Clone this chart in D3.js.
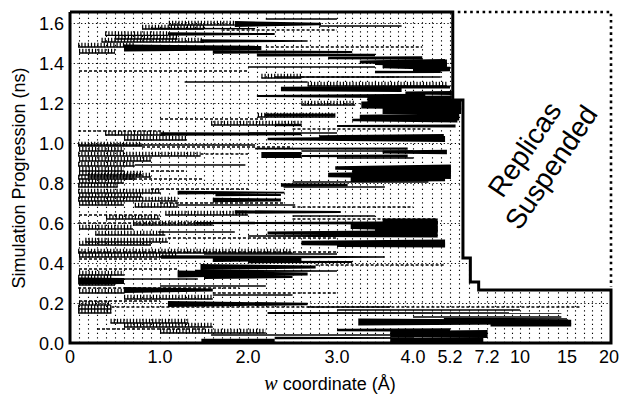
<!DOCTYPE html>
<html>
<head>
<meta charset="utf-8">
<script src="https://cdn.jsdelivr.net/npm/d3@7"></script>
<style>
  body { margin: 0; background: #fff; }
  svg { display: block; font-family: "Liberation Sans", Arial, sans-serif; }
</style>
</head>
<body>
<svg id="chart" width="623" height="396"></svg>
<script>
// axis ticks (w coordinate is drawn on a non-uniform window axis)
const xTicks = [0, 1.0, 2.0, 3.0, 4.0, 5.2, 7.2, 10, 15, 20];
const xTickLabels = ["0", "1.0", "2.0", "3.0", "4.0", "5.2", "7.2", "10", "15", "20"];
const yTicks = [0, 0.2, 0.4, 0.6, 0.8, 1.0, 1.2, 1.4, 1.6];
const tMax = 1.655;

// window spacing per axis section: [from, to, step]
const windowSteps = [[0, 4.0, 0.1], [4.0, 5.2, 0.3], [5.2, 7.2, 0.5], [7.2, 10, 0.7], [10, 20, 1.0]];

// boundary of the active region: time when replicas beyond w were suspended
const suspendT = [1.655, 1.215, 0.425, 0.305, 0.265];
const suspendW = [5.35, 5.9, 6.3, 6.75, 20];

// solid trajectory bars: [t (ns), w start, w end, time span at start, time span at end]
const solidBars = [
  [1.62, 2.2, 3.0, 0.006, 0.004], [1.595, 1.85, 2.82, 0.03, 0.012],
  [1.585, 2.8, 3.85, 0.007, 0.005], [1.572, 0.9, 2.08, 0.008, 0.006],
  [1.545, 1.09, 2.3, 0.018, 0.009], [1.51, 1.46, 2.67, 0.018, 0.008],
  [1.475, 0.6, 2.15, 0.035, 0.022], [1.455, 1.6, 3.2, 0.018, 0.01],
  [1.44, 2.1, 3.5, 0.015, 0.012], [1.425, 2.9, 4.3, 0.012, 0.018],
  [1.405, 3.3, 5.04, 0.015, 0.03], [1.4, 3.5, 5.1, 0.02, 0.035],
  [1.385, 3.6, 5.1, 0.022, 0.04], [1.37, 4.0, 5.2, 0.03, 0.022],
  [1.38, 2.0, 3.5, 0.006, 0.006], [1.355, 3.5, 4.9, 0.012, 0.009],
  [1.33, 2.3, 4.9, 0.006, 0.006], [1.305, 1.28, 2.67, 0.008, 0.008],
  [1.27, 2.37, 3.85, 0.022, 0.03], [1.28, 3.8, 5.2, 0.015, 0.015],
  [1.25, 3.9, 5.3, 0.015, 0.02], [1.235, 2.1, 4.4, 0.009, 0.022],
  [1.22, 3.4, 5.3, 0.03, 0.035], [1.205, 3.6, 5.8, 0.03, 0.03],
  [1.19, 3.32, 5.8, 0.035, 0.045], [1.175, 3.8, 5.8, 0.025, 0.025],
  [1.16, 3.6, 5.8, 0.03, 0.03], [1.14, 2.19, 2.98, 0.015, 0.015],
  [1.13, 3.3, 5.7, 0.022, 0.035], [1.115, 3.2, 5.6, 0.012, 0.025],
  [1.09, 2.3, 2.6, 0.012, 0.012], [1.085, 3.0, 5.5, 0.009, 0.015],
  [1.05, 2.0, 3.0, 0.006, 0.004], [1.045, 1.01, 2.6, 0.018, 0.012],
  [1.03, 2.8, 5.0, 0.018, 0.03], [1.02, 2.22, 5.04, 0.012, 0.03],
  [0.99, 0.09, 2.08, 0.006, 0.006], [0.972, 2.08, 3.93, 0.008, 0.012],
  [0.96, 2.6, 4.0, 0.005, 0.005], [0.955, 3.6, 5.1, 0.015, 0.022],
  [0.94, 2.15, 2.6, 0.03, 0.03], [0.935, 2.6, 3.93, 0.009, 0.015],
  [0.925, 3.0, 4.0, 0.006, 0.006], [0.89, 0.72, 1.97, 0.005, 0.005],
  [0.875, 2.98, 5.25, 0.018, 0.035], [0.86, 3.2, 5.25, 0.025, 0.035],
  [0.84, 2.9, 5.25, 0.022, 0.04], [0.82, 3.18, 5.04, 0.03, 0.022],
  [0.805, 2.5, 4.5, 0.006, 0.006], [0.79, 2.37, 3.14, 0.018, 0.012],
  [0.78, 2.4, 3.63, 0.006, 0.006], [0.752, 1.2, 2.41, 0.018, 0.009],
  [0.74, 1.63, 2.37, 0.012, 0.009], [0.715, 1.6, 2.37, 0.022, 0.015],
  [0.69, 1.2, 2.53, 0.006, 0.006], [0.655, 1.85, 3.05, 0.018, 0.009],
  [0.635, 2.5, 3.5, 0.005, 0.005], [0.61, 3.6, 4.8, 0.025, 0.025],
  [0.6, 1.4, 4.8, 0.009, 0.018], [0.585, 3.18, 4.8, 0.03, 0.05],
  [0.57, 3.5, 4.8, 0.025, 0.035], [0.555, 0.98, 1.85, 0.006, 0.006],
  [0.55, 2.22, 4.8, 0.015, 0.03], [0.535, 2.0, 4.8, 0.008, 0.015],
  [0.5, 2.6, 5.04, 0.022, 0.035], [0.49, 3.0, 5.04, 0.02, 0.025],
  [0.445, 1.5, 3.0, 0.008, 0.006], [0.43, 1.01, 3.63, 0.018, 0.008],
  [0.42, 1.6, 2.6, 0.03, 0.022], [0.405, 2.0, 3.2, 0.012, 0.01],
  [0.38, 1.46, 2.76, 0.03, 0.015], [0.36, 1.4, 3.0, 0.012, 0.008],
  [0.345, 1.2, 2.67, 0.035, 0.015], [0.33, 1.5, 2.5, 0.02, 0.01],
  [0.31, 0.09, 0.6, 0.035, 0.03], [0.32, 0.46, 1.43, 0.008, 0.006],
  [0.285, 1.0, 2.2, 0.008, 0.005], [0.265, 0.6, 1.6, 0.03, 0.015],
  [0.24, 1.6, 2.5, 0.008, 0.005], [0.195, 1.09, 2.67, 0.03, 0.012],
  [0.18, 2.67, 3.7, 0.008, 0.008], [0.165, 3.0, 10, 0.008, 0.008],
  [0.15, 2.22, 14.4, 0.009, 0.006], [0.13, 4.0, 14.4, 0.006, 0.006],
  [0.12, 5.0, 15.0, 0.01, 0.008], [0.105, 3.28, 15.5, 0.035, 0.022],
  [0.09, 7.5, 15.5, 0.015, 0.015], [0.065, 3.0, 5.2, 0.012, 0.018],
  [0.045, 3.7, 7.25, 0.03, 0.04], [0.04, 1.58, 3.84, 0.008, 0.008],
  [0.025, 2.3, 4.0, 0.012, 0.008], [0.012, 1.47, 2.3, 0.018, 0.018],
  [0.015, 3.7, 7.0, 0.022, 0.028]
];

// ladder-like (rapidly exchanging) segments: [t, w start, w end]
const combBars = [
  [1.6, 1.1, 1.85], [1.58, 0.8, 1.5], [1.548, 0.39, 1.09], [1.53, 0.5, 1.2],
  [1.515, 0.35, 1.5], [1.49, 0.09, 0.72], [1.46, 0.1, 0.5], [1.335, 2.15, 2.6],
  [1.295, 2.67, 5.1], [1.2, 2.6, 3.24], [1.14, 2.11, 2.98], [1.1, 1.58, 2.6],
  [1.05, 0.39, 1.06], [1.025, 0.6, 1.3], [0.995, 0.09, 0.8], [0.97, 0.1, 0.6],
  [0.945, 0.09, 1.46], [0.92, 0.1, 0.9], [0.895, 0.09, 0.72], [0.87, 0.1, 0.6],
  [0.85, 0.1, 0.8], [0.84, 0.2, 0.9], [0.83, 0.09, 0.72], [0.81, 0.1, 0.6],
  [0.79, 0.09, 0.53], [0.76, 0.09, 1.01], [0.74, 0.1, 0.8], [0.72, 0.09, 1.2],
  [0.7, 0.1, 0.6], [0.69, 0.72, 1.2], [0.65, 1.06, 2.0], [0.63, 0.4, 1.0],
  [0.6, 0.7, 1.6], [0.58, 0.1, 0.7], [0.55, 0.28, 1.06], [0.515, 0.17, 1.09],
  [0.5, 0.1, 0.9], [0.46, 0.09, 2.5], [0.44, 0.1, 1.2], [0.35, 0.1, 0.6],
  [0.33, 0.09, 0.46], [0.3, 0.1, 0.5], [0.26, 0.1, 0.6], [0.23, 0.6, 1.6],
  [0.2, 0.1, 0.45], [0.18, 0.09, 0.46], [0.16, 0.09, 0.46], [0.11, 0.45, 1.32],
  [0.09, 0.6, 1.6], [0.06, 1.0, 2.2]
];

// thin dashed segments: [t, w start, w end]
const dashBars = [
  [1.565, 1.7, 3.0], [1.48, 2.2, 4.3], [1.36, 0.1, 2.0], [1.33, 2.6, 3.8],
  [1.12, 1.0, 2.2], [1.07, 2.5, 4.6], [1.06, 0.09, 1.0], [0.98, 0.8, 2.5],
  [0.945, 1.46, 2.0], [0.86, 0.9, 1.3], [0.82, 0.6, 1.5], [0.77, 0.9, 2.0],
  [0.7, 1.0, 2.4], [0.68, 2.5, 4.0], [0.64, 0.1, 1.0], [0.62, 2.5, 4.8],
  [0.6, 0.09, 1.4], [0.525, 1.09, 3.0], [0.455, 0.09, 3.0], [0.42, 0.1, 1.0],
  [0.39, 2.76, 5.04], [0.37, 0.1, 1.2], [0.275, 0.09, 1.9], [0.25, 1.6, 3.0],
  [0.21, 0.1, 1.0], [0.18, 0.46, 16.7], [0.07, 0.3, 1.5]
];

const svg = d3.select("#chart");
const plot = { left: 70, right: 609, top: 12, bottom: 343 };

const x = d3.scaleLinear()
  .domain(xTicks)
  .range([plot.left, 160, 248, 337, 413, 450, 487, 520, 567, plot.right]);
const y = d3.scaleLinear().domain([0, tMax]).range([plot.bottom, plot.top]);

// highest time reached at a given w before suspension
function activeTop(w) {
  let t = 0;
  suspendW.forEach((sw, i) => { if (w < sw) t = Math.max(t, suspendT[i]); });
  return t;
}
function activeRight(t) {
  let w = suspendW[0];
  suspendT.forEach((st, i) => { if (t <= st) w = suspendW[i]; });
  return w;
}

// dotted window grid
const windows = [];
windowSteps.forEach(([a, b, s]) => {
  d3.range(a + s, b - 1e-6, s).forEach(w => windows.push(w));
  windows.push(b);
});
const grid = svg.append("g").attr("stroke", "#000").attr("stroke-width", 1.1)
  .attr("stroke-dasharray", "1.2,3.3");
grid.selectAll("line.v").data(windows.filter(w => w < 20)).enter().append("line")
  .attr("class", "v")
  .attr("x1", d => Math.round(x(d)) + 0.5).attr("x2", d => Math.round(x(d)) + 0.5)
  .attr("y1", y(0)).attr("y2", d => y(activeTop(d)));
grid.selectAll("line.h").data(yTicks.slice(1)).enter().append("line")
  .attr("class", "h")
  .attr("x1", x(0)).attr("x2", d => x(activeRight(d)))
  .attr("y1", d => Math.round(y(d)) + 0.5).attr("y2", d => Math.round(y(d)) + 0.5)
  .attr("stroke-dasharray", "1.2,2.5");

// thin dashed trajectories
svg.append("g").selectAll("line").data(dashBars).enter().append("line")
  .attr("x1", d => x(d[1])).attr("x2", d => x(d[2]))
  .attr("y1", d => y(d[0])).attr("y2", d => y(d[0]))
  .attr("stroke", "#000").attr("stroke-width", 1.4)
  .attr("stroke-dasharray", "3,2");

// ladder segments
const comb = svg.append("g").attr("stroke", "#000");
comb.selectAll("line.c").data(combBars).enter().append("line")
  .attr("class", "c")
  .attr("x1", d => x(d[1])).attr("x2", d => x(d[2]))
  .attr("y1", d => y(d[0])).attr("y2", d => y(d[0]))
  .attr("stroke-width", 4.5).attr("stroke-dasharray", "1.2,2");
comb.selectAll("line.b").data(combBars).enter().append("line")
  .attr("class", "b")
  .attr("x1", d => x(d[1])).attr("x2", d => x(d[2]))
  .attr("y1", d => y(d[0]) + 2).attr("y2", d => y(d[0]) + 2)
  .attr("stroke-width", 1.3);

// solid wedge-shaped trajectories
svg.append("g").selectAll("polygon").data(solidBars).enter().append("polygon")
  .attr("fill", "#000")
  .attr("points", d => {
    const [t, w0, w1, a, b] = d;
    const ha = Math.max(0.7, (y(0) - y(a)) / 2), hb = Math.max(0.7, (y(0) - y(b)) / 2);
    return [[x(w0), y(t) - ha], [x(w1), y(t) - hb], [x(w1), y(t) + hb], [x(w0), y(t) + ha]]
      .map(p => p.join(",")).join(" ");
  });

// frame with the suspension step
const lastT = suspendT[suspendT.length - 1];
const step = [[x(0), y(tMax)], [x(suspendW[0]), y(tMax)]];
suspendT.forEach((t, i) => {
  if (i > 0) {
    step.push([x(suspendW[i - 1]), y(t)]);
    step.push([x(suspendW[i]), y(t)]);
  }
});
step[step.length - 1][0] = x(20) + 2;
step.push([x(20) + 2, y(0)], [x(0), y(0)], [x(0), y(tMax)]);
svg.append("path")
  .attr("d", d3.line()(step))
  .attr("fill", "none").attr("stroke", "#000").attr("stroke-width", 3)
  .attr("stroke-linejoin", "miter");
// dotted outline of the suspended region
svg.append("path")
  .attr("d", d3.line()([[x(suspendW[0]) + 5, y(tMax)], [x(20) + 2, y(tMax)], [x(20) + 2, y(lastT) - 3]]))
  .attr("fill", "none").attr("stroke", "#000").attr("stroke-width", 2.6)
  .attr("stroke-dasharray", "2.6,3.6");

// tick labels
svg.append("g").selectAll("text").data(yTicks).enter().append("text")
  .attr("x", 64).attr("y", d => y(d) + 6.5)
  .attr("text-anchor", "end").attr("font-size", 18)
  .text(d => d.toFixed(1));
svg.append("g").selectAll("text").data(xTicks).enter().append("text")
  .attr("x", d => x(d)).attr("y", 363)
  .attr("text-anchor", "middle").attr("font-size", 18)
  .text((d, i) => xTickLabels[i]);

// axis titles
const xt = svg.append("text").attr("x", 330).attr("y", 390)
  .attr("text-anchor", "middle").attr("font-size", 18);
xt.append("tspan").attr("font-family", "Liberation Serif, serif").attr("font-style", "italic")
  .attr("font-size", 20).text("w");
xt.append("tspan").text(" coordinate (Å)");
svg.append("text")
  .attr("transform", "translate(25,178) rotate(-90)")
  .attr("text-anchor", "middle").attr("font-size", 18)
  .text("Simulation Progression (ns)");

// annotation
const note = svg.append("text")
  .attr("transform", "translate(536,157) rotate(-56)")
  .attr("text-anchor", "middle").attr("font-size", 28);
note.append("tspan").attr("x", 0).attr("dy", "-0.15em").text("Replicas");
note.append("tspan").attr("x", 0).attr("dy", "1.15em").text("Suspended");
</script>
</body>
</html>
